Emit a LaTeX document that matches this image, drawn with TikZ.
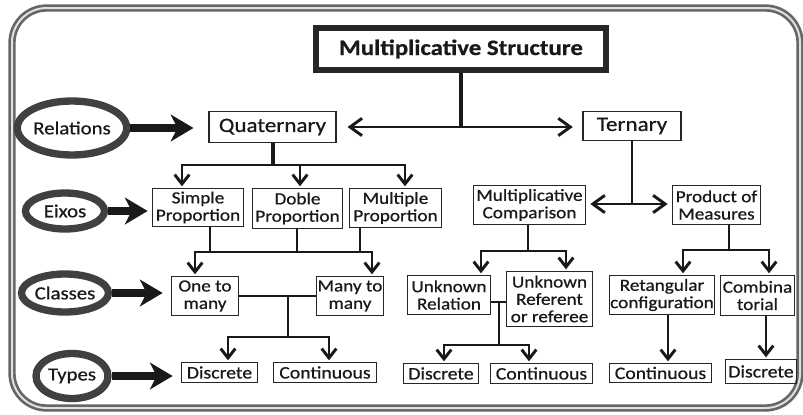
\documentclass[tikz,border=0pt]{standalone}
\usepackage{fontspec}
\setmainfont{Carlito}[FakeStretch=1.13,FakeBold=0.7]
\usetikzlibrary{arrows.meta,shapes.geometric,calc}
\tikzset{
  box/.style={draw=black!85, line width=1.3pt, align=center, inner sep=0pt, text=black!90,
              font=\fontsize{12.75}{13}\selectfont},
  sz/.style 2 args={minimum width=#1*0.75pt, minimum height=#2*0.75pt},
  bigtxt/.style={font=\fontsize{15.3}{16}\selectfont},
  rowtxt/.style={font=\fontsize{13.1}{14}\selectfont},
  ell/.style={ellipse, draw=black!75, line width=5.5pt, inner sep=0pt, text=black!90,
              font=\fontsize{13.8}{14}\selectfont},
  ln/.style={line width=2.2pt, draw=black!90},
  arr/.style={ln, shorten >=1pt, -{Straight Barb[length=7pt,width=11pt]}},
  darr/.style={ln, {Straight Barb[length=9pt,width=13pt]}-{Straight Barb[length=9pt,width=13pt]}},
  big/.style={line width=6pt, draw=black!90, -{Stealth[length=17pt,width=20pt,inset=5pt]}},
  frame/.style={draw=black!60, line width=2pt, double=black!12, double distance=1.5pt, rounded corners=26pt}
}
\begin{document}
\begin{tikzpicture}[x=0.75pt,y=-0.75pt]
\useasboundingbox (0,0) rectangle (803,414);
\draw[frame] (12,8) rectangle (800,408);

% title
\node[box, font=\bfseries\fontsize{16.5}{17}\selectfont, line width=3.5pt, sz={291}{43}] (title) at (461,49) {Multiplicative Structure};
\draw[line width=0.9pt, black!85] ($(title.north west)+(5.5,5.5)$) rectangle ($(title.south east)+(-5.5,-5.5)$);

% level 1
\node[box, bigtxt, sz={127}{31}] (quat) at (272.5,127) {Quaternary};
\node[box, bigtxt, sz={98}{29}] (tern) at (632,126) {Ternary};

% ellipses
\node[ell, sz={98}{54}] (rel) at (72,128) {Relations};
\node[ell, sz={79}{36}] (eix) at (65,211) {Eixos};
\node[ell, sz={87}{38}] (cla) at (65,293) {Classes};
\node[ell, sz={72}{45}] (typ) at (72,376) {Types};

% level 2
\node[box, sz={91}{38}] (simple) at (198,207.5) {Simple\\Proportion};
\node[box, sz={90}{40}] (doble) at (297.5,208.5) {Doble\\Proportion};
\node[box, sz={92}{39}] (mult) at (395.5,208) {Multiple\\Proportion};
\node[box, sz={112}{39}] (mcomp) at (529.5,205) {Multiplicative\\Comparison};
\node[box, sz={88}{39}] (prod) at (716.5,205) {Product of\\Measures};

% level 3
\node[box, sz={67}{39}] (one) at (205,296) {One to\\many};
\node[box, sz={67}{39}] (many) at (350,296) {Many to\\many};
\node[box, sz={83}{39}] (ur) at (449,295) {Unknown\\Relation};
\node[box, sz={86}{55}] (uref) at (549.5,299) {Unknown\\Referent\\or referee};
\node[box, sz={105}{39}] (ret) at (662,295) {Retangular\\configuration};
\node[box, sz={74}{40}] (comb) at (757.5,295.5) {Combina\\torial};

% level 4
\node[box, rowtxt, sz={76}{20}] (d1) at (219.5,372.5) {Discrete};
\node[box, rowtxt, sz={103}{20}] (c1) at (325,372.5) {Continuous};
\node[box, rowtxt, sz={75}{20}] (d2) at (441,373.5) {Discrete};
\node[box, rowtxt, sz={102}{20}] (c2) at (541.5,373.5) {Continuous};
\node[box, rowtxt, sz={102}{19}] (c3) at (660.5,373) {Continuous};
\node[box, rowtxt, sz={71}{24}] (d3) at (761,371.5) {Discrete};

% title to level 1
\draw[ln, line width=3pt] (title.south) -- (title.south |- quat.east);
\draw[darr, shorten <=8pt, shorten >=7pt] (quat.east) -- (quat.east -| tern.west);

% quaternary fork
\coordinate (qf) at (272.5,165);
\coordinate (xa) at (182,165);
\coordinate (xb) at (300,165);
\coordinate (xc) at (405,165);
\draw[ln, line width=3pt] (quat.south) -- (qf);
\draw[arr] (qf) -| (xa |- simple.north);
\draw[arr] (qf) -| (xc |- mult.north);
\draw[arr] (xb) -- (xb |- doble.north);

% eixos to classes
\coordinate (r1) at (210,252);
\coordinate (r2) at (297,252);
\coordinate (r3) at (360,252);
\coordinate (r4) at (195,252);
\coordinate (r5) at (372,252);
\draw[ln] (r1 |- simple.south) -- (r1);
\draw[ln] (r2 |- doble.south) -- (r2);
\draw[ln] (r3 |- mult.south) -- (r3);
\draw[arr] (r2) -| (r4 |- one.north);
\draw[arr] (r2) -| (r5 |- many.north);

% classes to types
\coordinate (r6) at (288,337);
\coordinate (r7) at (228,337);
\coordinate (r8) at (329,337);
\draw[ln] (one.east) -- (one.east -| many.west);
\draw[ln] (r6 |- one.east) -- (r6);
\draw[arr] (r6) -| (r7 |- d1.north);
\draw[arr] (r6) -| (r8 |- c1.north);

% ternary
\coordinate (t1) at (632,204);
\draw[ln] (tern.south) -- (t1);
\draw[darr, shorten <=3pt, shorten >=3pt] (mcomp.east |- t1) -- (prod.west |- t1);

% multiplicative comparison fork
\coordinate (m0) at (528,251);
\coordinate (m1) at (481,251);
\coordinate (m2) at (566,251);
\draw[ln] (m0 |- mcomp.south) -- (m0);
\draw[arr] (m0) -| (m1 |- ur.north);
\draw[arr] (m0) -| (m2 |- uref.north);

\coordinate (u0) at (499,302);
\coordinate (u3) at (499,345);
\coordinate (u1) at (444,345);
\coordinate (u2) at (529,345);
\draw[ln] (ur.east |- u0) -- (uref.west |- u0);
\draw[ln] (u0) -- (u3);
\draw[arr] (u3) -| (u1 |- d2.north);
\draw[arr] (u3) -| (u2 |- c2.north);

% product of measures fork
\coordinate (p0) at (729,250);
\coordinate (p1) at (683,250);
\coordinate (p2) at (769,250);
\draw[ln] (p0 |- prod.south) -- (p0);
\draw[arr] (p0) -| (p1 |- ret.north);
\draw[arr] (p0) -| (p2 |- comb.north);

\coordinate (v1) at (668,0);
\coordinate (v2) at (766,0);
\draw[arr] (v1 |- ret.south) -- (v1 |- c3.north);
\draw[arr] (v2 |- comb.south) -- (v2 |- d3.north);

% big arrows
\draw[big, shorten >=11pt] (rel.east) -- (rel.east -| quat.west);
\draw[big, shorten >=3pt] (eix.east) -- (eix.east -| simple.west);
\draw[big, shorten >=6pt] (cla.east) -- (cla.east -| one.west);
\draw[big, shorten >=6pt] (typ.east) -- (typ.east -| d1.west);
\end{tikzpicture}
\end{document}
